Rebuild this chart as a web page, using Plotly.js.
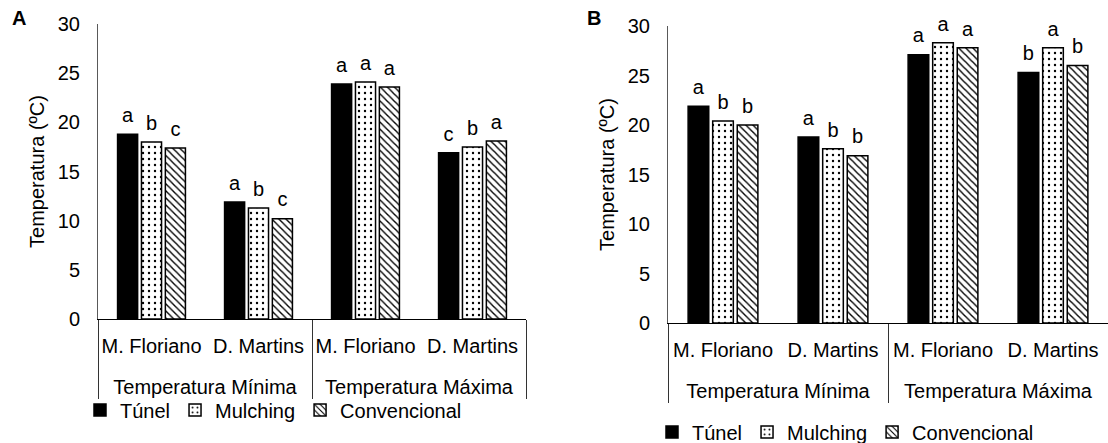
<!DOCTYPE html>
<html>
<head>
<meta charset="utf-8">
<script src="https://cdn.plot.ly/plotly-3.0.1.min.js"></script>
<style>html,body{margin:0;padding:0;background:#fff;}#chart{width:1108px;height:443px;}</style>
</head>
<body>
<div id="chart"></div>
<script>
// ---- data ----
const groups = ['Temperatura Mínima', 'Temperatura Mínima', 'Temperatura Máxima', 'Temperatura Máxima'];
const sites = ['M. Floriano', 'D. Martins', 'M. Floriano', 'D. Martins'];
const seriesNames = ['Túnel', 'Mulching', 'Convencional'];

const A_tunel = [18.8, 11.9, 23.9, 16.9];
const A_mulching = [18.0, 11.3, 24.1, 17.5];
const A_convencional = [17.4, 10.2, 23.6, 18.1];
const A_tunel_letters = ['a', 'a', 'a', 'c'];
const A_mulching_letters = ['b', 'b', 'a', 'b'];
const A_convencional_letters = ['c', 'c', 'a', 'a'];

const B_tunel = [21.9, 18.8, 27.1, 25.3];
const B_mulching = [20.4, 17.6, 28.3, 27.8];
const B_convencional = [20.0, 16.9, 27.8, 26.0];
const B_tunel_letters = ['a', 'a', 'a', 'b'];
const B_mulching_letters = ['b', 'b', 'a', 'a'];
const B_convencional_letters = ['b', 'b', 'a', 'b'];

const yTitle = 'Temperatura (ºC)';
const panelLabels = ['A', 'B'];

// ---- styles ----
const FONT = 'Liberation Sans, Arial, sans-serif';
const styles = [
  {color: '#000000', pattern: {shape: ''}},
  {color: '#ffffff', pattern: {shape: '.', fgcolor: '#000000', bgcolor: '#ffffff', size: 6, solidity: 0.12}},
  {color: '#ffffff', pattern: {shape: '\\', fgcolor: '#000000', bgcolor: '#ffffff', size: 5, solidity: 0.28}}
];

// site labels get an empty second line so the group row sits lower, as in the original
const siteLabels = sites.map(s => s + '<br> ');
const x2d = [groups, siteLabels];
const traces = [];

function addPanel(vals, letters, xa, ya, legendId) {
  vals.forEach((v, i) => {
    traces.push({
      type: 'bar', name: seriesNames[i], x: x2d, y: v,
      xaxis: xa, yaxis: ya, legend: legendId, offsetgroup: String(i),
      marker: {color: styles[i].color, pattern: styles[i].pattern, line: {color: '#000000', width: 1.5}},
      hoverinfo: 'skip'
    });
  });
  vals.forEach((v, i) => {
    traces.push({
      type: 'scatter', mode: 'markers+text', x: x2d, y: v, text: letters[i],
      textposition: 'top center', textfont: {family: FONT, size: 20, color: '#000'},
      marker: {size: 10, color: 'rgba(0,0,0,0)'},
      xaxis: xa, yaxis: ya, showlegend: false, offsetgroup: String(i),
      cliponaxis: false, hoverinfo: 'skip'
    });
  });
}

addPanel([A_tunel, A_mulching, A_convencional],
         [A_tunel_letters, A_mulching_letters, A_convencional_letters], 'x', 'y', 'legend');
addPanel([B_tunel, B_mulching, B_convencional],
         [B_tunel_letters, B_mulching_letters, B_convencional_letters], 'x2', 'y2', 'legend2');

const W = 1108, H = 443;
function xaxisDef(d0, d1, anchor) {
  return {
    domain: [d0, d1], anchor: anchor, type: 'multicategory',
    showline: true, linecolor: '#000000', linewidth: 1,
    ticks: '', tickangle: 0, ticklabelstandoff: 9,
    showdividers: true, dividercolor: '#333333', dividerwidth: 1,
    tickfont: {family: FONT, size: 20, color: '#000'},
    showgrid: false, zeroline: false, automargin: false, fixedrange: true
  };
}
function yaxisDef(top, bottom, anchor) {
  return {
    domain: [(H - bottom) / H, (H - top) / H], anchor: anchor,
    range: [0, 30], dtick: 5, tick0: 0,
    showgrid: false, zeroline: false, showline: true, linecolor: '#595959', linewidth: 1,
    ticks: '', ticklabelstandoff: 13,
    tickfont: {family: FONT, size: 20, color: '#000'},
    title: {text: yTitle, font: {family: FONT, size: 20, color: '#000'}, standoff: 7},
    automargin: false, fixedrange: true
  };
}

const layout = {
  width: W, height: H,
  margin: {l: 0, r: 0, t: 0, b: 0, autoexpand: false},
  paper_bgcolor: '#ffffff', plot_bgcolor: '#ffffff',
  font: {family: FONT, size: 20, color: '#000'},
  barmode: 'group', bargap: 0.33, bargroupgap: 0.16,
  scattermode: 'group', scattergap: 0.33,
  xaxis: xaxisDef(98 / W, 526 / W, 'y'),
  yaxis: yaxisDef(24, 319, 'x'),
  xaxis2: xaxisDef(668 / W, 1, 'y2'),
  yaxis2: yaxisDef(26, 323, 'x2'),
  showlegend: true,
  legend: {orientation: 'h', x: 80 / W, xanchor: 'left', y: (H - 410) / H, yanchor: 'middle',
           font: {family: FONT, size: 20, color: '#000'}, bgcolor: 'rgba(0,0,0,0)', traceorder: 'normal'},
  legend2: {orientation: 'h', x: 652 / W, xanchor: 'left', y: (H - 432) / H, yanchor: 'middle',
           font: {family: FONT, size: 20, color: '#000'}, bgcolor: 'rgba(0,0,0,0)', traceorder: 'normal'},
  annotations: [
    {text: '<b>' + panelLabels[0] + '</b>', xref: 'paper', yref: 'paper', x: 10 / W, y: (H - 18) / H,
     xanchor: 'left', yanchor: 'middle', showarrow: false, font: {family: FONT, size: 20, color: '#000'}},
    {text: '<b>' + panelLabels[1] + '</b>', xref: 'paper', yref: 'paper', x: 585 / W, y: (H - 18) / H,
     xanchor: 'left', yanchor: 'middle', showarrow: false, font: {family: FONT, size: 20, color: '#000'}}
  ]
};

Plotly.newPlot('chart', traces, layout, {staticPlot: true, displayModeBar: false});
</script>
</body>
</html>
